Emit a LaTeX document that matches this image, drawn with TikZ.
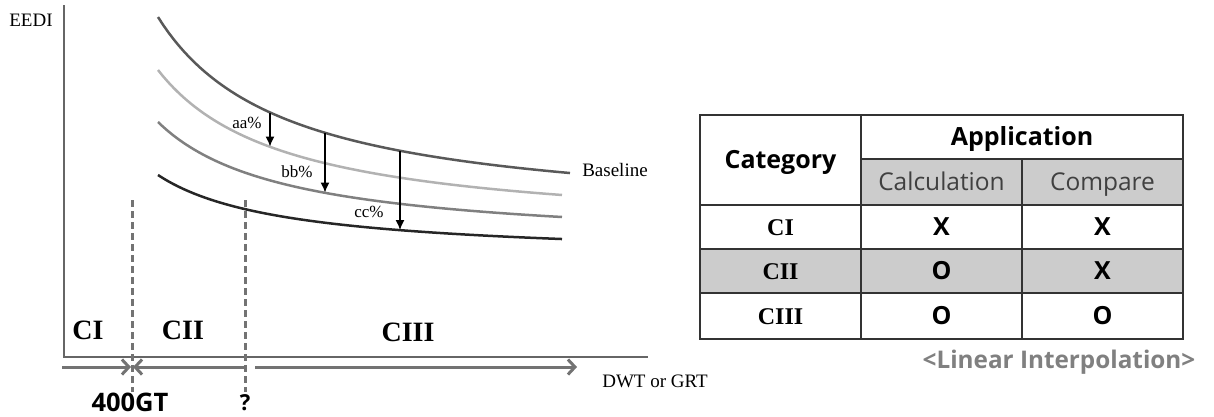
\documentclass[tikz,border=0pt]{standalone}
\usepackage{fontspec}
\setmainfont{Liberation Serif}
\setsansfont{Open Sans}
\usetikzlibrary{arrows.meta}

\begin{document}
\begin{tikzpicture}[x=1pt,y=-1pt,
    lab/.style={font=\fontsize{19}{22}\selectfont},
    pct/.style={font=\fontsize{17}{20}\selectfont,inner sep=1pt},
    zone/.style={font=\fontsize{28}{32}\selectfont\bfseries},
    curve/.style={line width=2.5pt},
    band/.style={draw=black!55,line width=3pt,-{Straight Barb[length=7pt,width=15pt]}},
    cut/.style={draw=black!55,line width=3pt,dash pattern=on 7pt off 4pt},
    cell/.style={draw=black!80,line width=2pt,minimum width=161pt,minimum height=44pt,inner sep=0pt,text height=17.5pt,text depth=0pt,font=\sffamily\bfseries\fontsize{25}{28}\selectfont},
    shade/.style={fill=black!20}]
    \useasboundingbox (0,0) rectangle (1214,416);

    \coordinate (Ytop) at (64,5);
    \coordinate (O) at (64,357);
    \coordinate (Xend) at (648,357);
    \draw [black!60,line width=1.5pt] (Ytop) to (O) to (Xend);
    \node (eedi) at (31,20) [lab] {EEDI};
    \node (dwt) at (655,381) [lab] {DWT or GRT};

    \draw [curve,black!65] plot[domain=158:570,samples=80] (\x,{221.5-261.72/((\x-30)/100)});
    \draw [curve,black!30] plot[domain=158:562,samples=80] (\x,{234.6-210.69/((\x-30)/100)});
    \draw [curve,black!50] plot[domain=158:562,samples=80] (\x,{247.1-160.13/((\x-30)/100)});
    \draw [curve,black!85] plot[domain=158:562,samples=80] (\x,{259.3-107.88/((\x-30)/100)});
    \node (base) at (615,170) [lab] {Baseline};

    \coordinate (aa1) at (270,112.5);
    \coordinate (aa2) at (270,146.5);
    \coordinate (bb1) at (325,132.8);
    \coordinate (bb2) at (325,192.5);
    \coordinate (cc1) at (400,150.8);
    \coordinate (cc2) at (400,230);
    \draw [-{Latex[length=10pt,width=9pt]},line width=1.3pt] (aa1) to (aa2);
    \draw [-{Latex[length=10pt,width=9pt]},line width=1.3pt] (bb1) to (bb2);
    \draw [-{Latex[length=10pt,width=9pt]},line width=1.3pt] (cc1) to (cc2);
    \node (aa) at (247,123) [pct] {aa\%};
    \node (bb) at (297,172) [pct] {bb\%};
    \node (cc) at (369,212) [pct] {cc\%};

    \coordinate (d1t) at (132,200);
    \coordinate (d1b) at (132,392);
    \coordinate (d2t) at (245,200);
    \coordinate (d2b) at (245,392);
    \draw [cut] (d1t) to (d1b);
    \draw [cut] (d2t) to (d2b);

    \coordinate (s0) at (62,367);
    \coordinate (s1) at (131,367);
    \coordinate (s2) at (133,367);
    \coordinate (s3) at (244,367);
    \coordinate (s4) at (255,367);
    \coordinate (s5) at (577,367);
    \draw [band] (s0) to (s1);
    \draw [band,{Straight Barb[length=7pt,width=15pt]}-] (s2) to (s3);
    \draw [band] (s4) to (s5);

    \node (ci) at (88,330) [zone] {CI};
    \node (cii) at (183,330) [zone] {CII};
    \node (ciii) at (408,332) [zone] {CIII};
    \node (gt) at (130,402) [inner sep=0pt,font=\sffamily\bfseries\fontsize{25.5}{28}\selectfont] {400GT};
    \node (q) at (245,403) [inner sep=0pt,font=\sffamily\bfseries\fontsize{22}{24}\selectfont] {?};

    \node (cat) at (780.5,160) [cell,minimum height=90pt] {Category};
    \node (app) at (1022,137) [cell,minimum width=322pt] {Application};
    \node (calc) at (941.5,182) [cell,shade,minimum height=46pt,font=\sffamily\fontsize{24.5}{28}\selectfont,text=black!75] {Calculation};
    \node (comp) at (1102.5,182) [cell,shade,minimum height=46pt,font=\sffamily\fontsize{24.5}{28}\selectfont,text=black!75] {Compare};

    \node (r1) at (780.5,227) [cell,text height=16pt,font=\rmfamily\bfseries\fontsize{24}{28}\selectfont] {CI};
    \node (r1a) at (941.5,227) [cell] {X};
    \node (r1b) at (1102.5,227) [cell] {X};
    \node (r2) at (780.5,271) [cell,shade,text height=16pt,font=\rmfamily\bfseries\fontsize{24}{28}\selectfont] {CII};
    \node (r2a) at (941.5,271) [cell,shade] {O};
    \node (r2b) at (1102.5,271) [cell,shade] {X};
    \node (r3) at (780.5,316) [cell,minimum height=46pt,text height=16pt,font=\rmfamily\bfseries\fontsize{24}{28}\selectfont] {CIII};
    \node (r3a) at (941.5,316) [cell,minimum height=46pt] {O};
    \node (r3b) at (1102.5,316) [cell,minimum height=46pt] {O};

    \node (note) at (1059,362) [font=\sffamily\bfseries\fontsize{24.3}{26}\selectfont,text=black!50] {<Linear Interpolation>};
\end{tikzpicture}
\end{document}
